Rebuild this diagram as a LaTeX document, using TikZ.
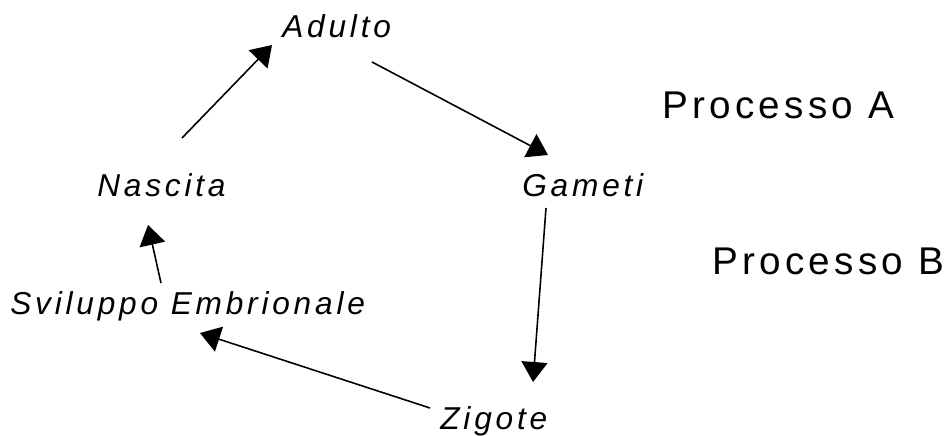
\documentclass[tikz,border=0pt]{standalone}
\usepackage{fontspec}
\setmainfont{Liberation Sans}
\newfontfamily\spacedfont[LetterSpace=12]{Liberation Sans}
\newfontfamily\procfont[LetterSpace=11]{Liberation Sans}
\usetikzlibrary{arrows.meta}
\tikzset{
  stage/.style={anchor=base west, inner sep=0pt, font=\spacedfont\itshape\fontsize{18}{20}\selectfont},
  proc/.style={anchor=base west, inner sep=0pt, font=\procfont\fontsize{22}{24}\selectfont},
  arr/.style={-{Triangle[length=0.4cm,width=0.52cm]}, line width=0.9pt}
}
\begin{document}
\begin{tikzpicture}
\useasboundingbox (0,0) rectangle (18.88,8.72);
\node[stage] at (5.64,7.96) (adulto) {Adulto};
\node[stage] at (1.94,4.78) (nascita) {Nascita};
\node[stage] at (10.44,4.78) (gameti) {Gameti};
\node[stage] at (0.20,2.42) (sviluppo) {Sviluppo Embrionale};
\node[stage] at (8.80,0.12) (zigote) {Zigote};
\node[proc] at (13.24,6.34) (procA) {Processo A};
\node[proc] at (14.24,3.22) (procB) {Processo B};

\draw[arr] ([shift={(1.70,1.18)}]nascita.base west)--([shift={(-0.20,-0.14)}]adulto.base west);
\draw[arr] ([shift={(1.80,-0.48)}]adulto.base west)--([shift={(0.52,0.84)}]gameti.base west);
\draw[arr] ([shift={(0.48,-0.22)}]gameti.base west)--([shift={(1.86,0.96)}]zigote.base west);
\draw[arr] ([shift={(-0.20,0.44)}]zigote.base west)--([shift={(3.80,-0.36)}]sviluppo.base west);
\draw[arr] ([shift={(3.02,0.64)}]sviluppo.base west)--([shift={(1.02,-0.56)}]nascita.base west);

\end{tikzpicture}
\end{document}
